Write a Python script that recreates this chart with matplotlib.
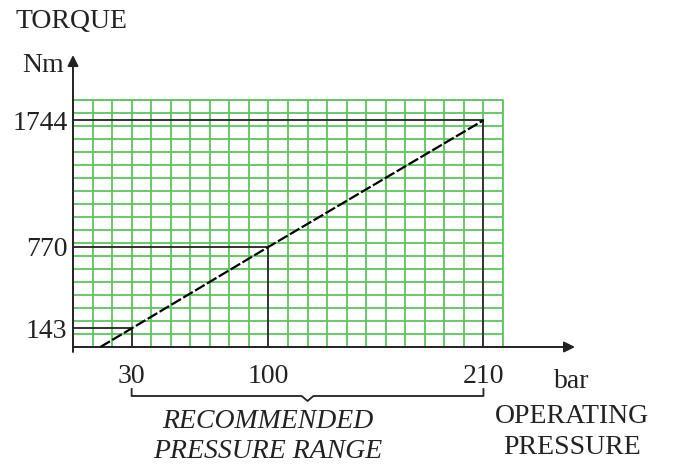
import matplotlib
matplotlib.use("Agg")
import matplotlib.pyplot as plt
from matplotlib.ticker import MultipleLocator

# data
pressure = [14, 30, 100, 210]          # bar
torque = [0, 143, 770, 1744]           # Nm
marked_pressure = [30, 100, 210]
marked_torque = [143, 770, 1744]
x_tick_labels = ["30", "100", "210"]
y_tick_labels = ["143", "770", "1744"]

W, H = 674, 465
fig = plt.figure(figsize=(W / 100, H / 100), dpi=100)
plt.rcParams['font.family'] = ['Liberation Serif', 'DejaVu Serif']

x0, y0, x1, y1 = 73, 347, 503, 100   # pixel frame of grid
ax = fig.add_axes([x0 / W, 1 - y0 / H, (x1 - x0) / W, (y0 - y1) / H])
ax.set_xlim(0, 220)
ax.set_ylim(0, 1900)
ax.set_facecolor('white')

# grid
ax.xaxis.set_minor_locator(MultipleLocator(10))
ax.yaxis.set_minor_locator(MultipleLocator(100))
ax.xaxis.remove_overlapping_locs = False
ax.yaxis.remove_overlapping_locs = False
ax.grid(which='minor', color='#5cc65c', lw=1.3)
ax.grid(which='major', visible=False)
ax.set_axisbelow(True)

ax.set_xticks(marked_pressure)
ax.set_xticklabels(x_tick_labels)
ax.set_yticks(marked_torque)
ax.set_yticklabels(y_tick_labels)
ax.tick_params(which='both', length=0)
ax.tick_params(axis='x', pad=12, labelsize=20, colors='#222222')
ax.tick_params(axis='y', pad=4, labelsize=20, colors='#222222')

for s in ['top', 'right', 'left', 'bottom']:
    ax.spines[s].set_visible(False)

# green frame top/right
ax.plot([0, 220, 220], [1900, 1900, 0], color='#5cc65c', lw=1.3, clip_on=False, zorder=2)

# reference lines
for p, t in zip(marked_pressure, marked_torque):
    ax.plot([0, p], [t, t], color='#333333', lw=1.4, zorder=3)
    ax.plot([p, p], [0, t], color='#333333', lw=1.4, zorder=3)

# characteristic
ax.plot(pressure, torque, color='black', lw=1.6, ls=(0, (5, 1.2)), zorder=4, clip_on=False)

# axes with arrows
px_per_bar = (x1 - x0) / 220
px_per_nm = (y0 - y1) / 1900
y_top = (y0 - 55) / px_per_nm
x_right = (575 - x0) / px_per_bar
y_low = -(352 - y0) / px_per_nm
ax.annotate('', xy=(0, y_top), xytext=(0, y_low),
            arrowprops=dict(arrowstyle='-|>', color='#222222', lw=1.4, mutation_scale=16,
                            shrinkA=0, shrinkB=0), annotation_clip=False)
ax.annotate('', xy=(x_right, 0), xytext=(0, 0),
            arrowprops=dict(arrowstyle='-|>', color='#222222', lw=1.4, mutation_scale=16,
                            shrinkA=0, shrinkB=0), annotation_clip=False)

# bracket for recommended range
tr = ax.get_xaxis_transform()
yb = -(396 - y0) / (y0 - y1)
yend = -(389 - y0) / (y0 - y1)
ynotch = -(401 - y0) / (y0 - y1)
xmid = (marked_pressure[0] + marked_pressure[-1]) / 2
ax.plot([marked_pressure[0], marked_pressure[0], xmid - 3, xmid, xmid + 3,
         marked_pressure[-1], marked_pressure[-1]],
        [yend, yb, yb, ynotch, yb, yb, yend],
        color='#222222', lw=1.3, transform=tr, clip_on=False)

def ftext(px, py, s, **kw):
    fig.text(px / W, 1 - py / H, s, color='#222222', fontsize=20, **kw)

ftext(15, 22, "TORQUE", ha='left', va='center')
ftext(64, 65, "Nm", ha='right', va='center')
ftext(572, 381, "bar", ha='center', va='center')
ftext(572, 416, "OPERATING", ha='center', va='center')
ftext(572, 447, "PRESSURE", ha='center', va='center')
ftext(268, 421, "RECOMMENDED", ha='center', va='center', style='italic')
ftext(268, 451, "PRESSURE RANGE", ha='center', va='center', style='italic')

fig.savefig("out.png", dpi=100)
